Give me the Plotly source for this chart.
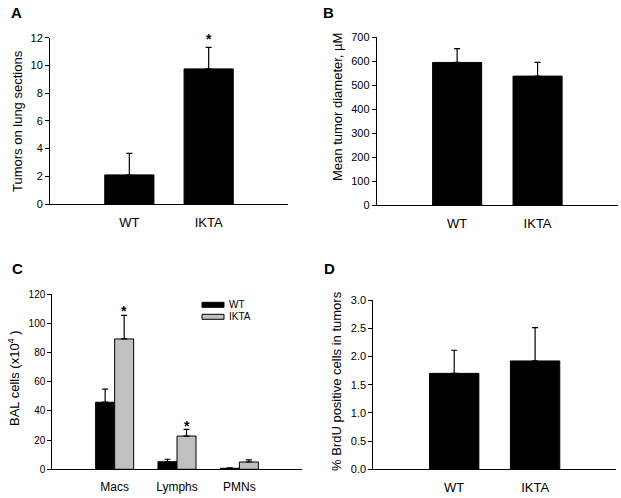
import plotly.graph_objects as go

W, H = 621, 498

# ---------------- data ----------------
groups_ab = ["WT", "IKTA"]
tumors_mean = [2.1, 9.75]
tumors_err = [1.55, 1.55]

diam_mean = [595, 538]
diam_err = [58, 57]

cell_types = ["Macs", "Lymphs", "PMNs"]
series_names = ["WT", "IKTA"]
bal_wt = [46, 5.2, 0.7]
bal_wt_err = [9, 1.7, 0.3]
bal_ikta = [89.4, 22.8, 5.0]
bal_ikta_err = [16.2, 4.6, 1.4]

brdu_mean = [1.70, 1.92]
brdu_err = [0.41, 0.59]

FONT = "Liberation Sans, Arial, sans-serif"


def px_x(p):
    return p / W


def px_y(p):
    return 1 - p / H


fig = go.Figure()

err_style = dict(type="data", symmetric=False, color="black", thickness=1.2, width=3)

# Panel A
fig.add_trace(go.Bar(x=[0, 1], y=tumors_mean, width=0.62, marker=dict(color="black", line=dict(color="black", width=1)),
                     error_y=dict(array=tumors_err, arrayminus=[0, 0], **err_style),
                     xaxis="x", yaxis="y", showlegend=False))
# Panel B
fig.add_trace(go.Bar(x=[0, 1], y=diam_mean, width=0.61, marker=dict(color="black", line=dict(color="black", width=1)),
                     error_y=dict(array=diam_err, arrayminus=[0, 0], **err_style),
                     xaxis="x2", yaxis="y2", showlegend=False))
# Panel C
fig.add_trace(go.Bar(x=[0, 1, 2], y=bal_wt, width=0.305, offset=-0.305, name=series_names[0],
                     marker=dict(color="black", line=dict(color="black", width=1)),
                     error_y=dict(array=bal_wt_err, arrayminus=[0, 0, 0], **err_style),
                     xaxis="x3", yaxis="y3", showlegend=False))
fig.add_trace(go.Bar(x=[0, 1, 2], y=bal_ikta, width=0.305, offset=0, name=series_names[1],
                     marker=dict(color="#c0c0c0", line=dict(color="black", width=1)),
                     error_y=dict(array=bal_ikta_err, arrayminus=[0, 0, 0], **err_style),
                     xaxis="x3", yaxis="y3", showlegend=False))
# Panel D
fig.add_trace(go.Bar(x=[0, 1], y=brdu_mean, width=0.61, marker=dict(color="black", line=dict(color="black", width=1)),
                     error_y=dict(array=brdu_err, arrayminus=[0, 0], **err_style),
                     xaxis="x4", yaxis="y4", showlegend=False))


def xax(domain, rng, labels, size, anchor):
    return dict(domain=domain, range=rng, tickmode="array", tickvals=list(range(len(labels))), ticktext=labels,
                anchor=anchor, automargin=False, ticklabelstandoff=6,
                showline=True, linecolor="black", linewidth=1, ticks="", showgrid=False, zeroline=False,
                tickfont=dict(family=FONT, size=size, color="black"), fixedrange=True)


def yax(domain, rng, dtick, size, anchor, fmt=None):
    d = dict(domain=domain, range=rng, dtick=dtick, tick0=0, anchor=anchor, automargin=False,
             showline=True, linecolor="black", linewidth=1, ticks="outside", ticklen=4, tickwidth=1,
             tickcolor="black", showgrid=False, zeroline=False,
             tickfont=dict(family=FONT, size=size, color="black"), fixedrange=True)
    if fmt:
        d["tickformat"] = fmt
    return d


layout = dict(
    template="none",
    width=W, height=H, autosize=False, margin=dict(l=0, r=0, t=0, b=0, pad=0, autoexpand=False),
    paper_bgcolor="white", plot_bgcolor="white", barmode="overlay", showlegend=False,
    hovermode=False,
    xaxis=xax([px_x(50), px_x(288)], [-1, 2], groups_ab, 13, "y"),
    yaxis=yax([px_y(204), px_y(37.7)], [0, 12], 2, 11, "x"),
    xaxis2=xax([px_x(376.7), px_x(618)], [-1, 2], groups_ab, 13, "y2"),
    yaxis2=yax([px_y(205), px_y(37.3)], [0, 700], 100, 11, "x2"),
    xaxis3=xax([px_x(52.3), px_x(301.7)], [-1, 3], cell_types, 12, "y3"),
    yaxis3=yax([px_y(469.3), px_y(294.3)], [0, 120], 20, 10, "x3"),
    xaxis4=xax([px_x(373.3), px_x(616)], [-1, 2], groups_ab, 13, "y4"),
    yaxis4=yax([px_y(469.3), px_y(300)], [0, 3], 0.5, 11, "x4", ".1f"),
)
fig.update_layout(**layout)

ann = []
# panel letters
for txt, x, y in [("A", 16, 13), ("B", 328, 13), ("C", 17, 268), ("D", 329, 268)]:
    ann.append(dict(text=f"<b>{txt}</b>", x=px_x(x), y=px_y(y), xref="paper", yref="paper",
                    showarrow=False, xanchor="center", yanchor="middle",
                    font=dict(family=FONT, size=15, color="black")))
# y titles
for txt, x, y in [("Tumors on lung sections", 17, 121),
                  ("Mean tumor diameter, µM", 337, 107),
                  ("BAL cells (x10<sup>4</sup> )", 14, 378),
                  ("% BrdU positive cells in tumors", 336, 381)]:
    ann.append(dict(text=txt, x=px_x(x), y=px_y(y), xref="paper", yref="paper", textangle=-90,
                    showarrow=False, xanchor="center", yanchor="middle",
                    font=dict(family=FONT, size=13, color="black")))
# significance asterisks
ann.append(dict(text="<b>*</b>", x=1, y=tumors_mean[1] + tumors_err[1], xref="x", yref="y", showarrow=False,
                yanchor="middle", yshift=8, font=dict(family=FONT, size=14, color="black")))
for i, ys in [(0, 4), (1, 3)]:
    ann.append(dict(text="<b>*</b>", x=i + 0.1525, y=bal_ikta[i] + bal_ikta_err[i], xref="x3", yref="y3",
                    showarrow=False, yanchor="middle", yshift=ys, font=dict(family=FONT, size=14, color="black")))
# legend text for panel C
for name, y in zip(series_names, [304.8, 316.8]):
    ann.append(dict(text=name, x=px_x(227), y=px_y(y), xref="paper", yref="paper", showarrow=False,
                    xanchor="left", yanchor="middle", font=dict(family=FONT, size=10, color="black")))
fig.update_layout(annotations=ann)

# legend swatches for panel C
for color, y in zip(["black", "#c0c0c0"], [304.8, 316.8]):
    fig.add_shape(type="rect", xref="paper", yref="paper", x0=px_x(202), x1=px_x(224),
                  y0=px_y(y + 2.5), y1=px_y(y - 2.5), fillcolor=color, line=dict(color="black", width=1))

fig.write_html("out.html", config={"displayModeBar": False},
               post_script="document.body.style.margin='0px';")
